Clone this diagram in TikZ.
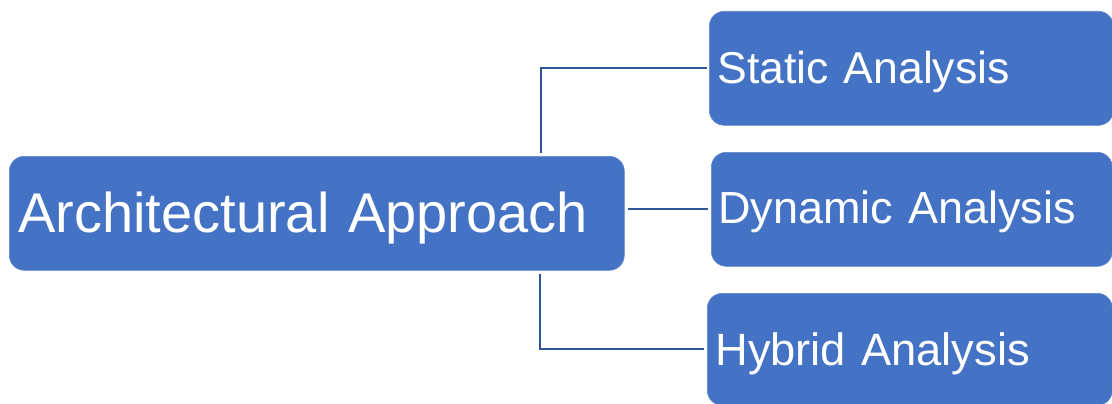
\documentclass[tikz,border=0pt]{standalone}
\usepackage{fontspec}
\setmainfont{Liberation Sans}
\definecolor{boxblue}{HTML}{4472C4}
\definecolor{lineblue}{HTML}{2F5597}
\newcommand{\lowtxt}[2]{\raisebox{-#1}[\height][\depth]{#2}}
\begin{document}
\begin{tikzpicture}[x=1pt,y=1pt,
  box/.style={fill=boxblue, draw=boxblue!85!white, line width=0.6pt, rounded corners=15pt, anchor=north west,
    text=white, align=left, inner ysep=0pt},
  conn/.style={draw=lineblue, line width=2.2pt}]
\useasboundingbox[fill=white] (0,0) rectangle (1112,-404);
\begin{scope}
\clip (0,0) rectangle (1112,-404);
\node[box, minimum width=615pt, minimum height=114pt, inner xsep=9pt, text width=597pt,
  font=\fontsize{56}{62}\selectfont] (main) at (9,-156) {\lowtxt{5pt}{Architectural Approach}};
\node[box, minimum width=404pt, minimum height=114pt, inner xsep=8pt, text width=388pt,
  font=\fontsize{44.6}{50}\selectfont] (static) at (709,-11) {\lowtxt{4pt}{Static Analysis}};
\node[box, minimum width=401pt, minimum height=114pt, inner xsep=7pt, text width=387pt,
  font=\fontsize{45}{50}\selectfont] (dyn) at (711,-152) {\lowtxt{3pt}{Dynamic Analysis}};
\node[box, minimum width=405pt, minimum height=112pt, inner xsep=8pt, text width=389pt,
  font=\fontsize{45.3}{50}\selectfont] (hyb) at (707,-293) {\lowtxt{4pt}{Hybrid Analysis}};
\end{scope}
\coordinate (topstart) at (541,-153);
\coordinate (botstart) at (540,-274);
\draw[conn, shorten >=2pt] (topstart) |- (static.west);
\draw[conn, shorten <=3pt, shorten >=3pt] (main.east |- dyn.west) -- (dyn.west);
\draw[conn, shorten >=3pt] (botstart) |- (hyb.west);
\end{tikzpicture}
\end{document}
